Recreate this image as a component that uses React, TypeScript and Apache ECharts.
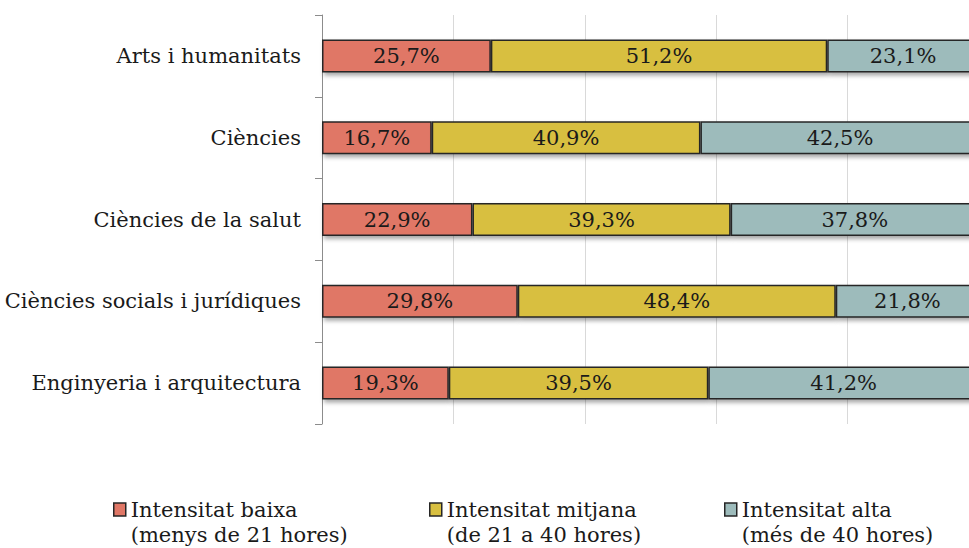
import React, { useEffect, useRef } from "react";
import * as echarts from "echarts";

const categories = [
  "Arts i humanitats",
  "Ciències",
  "Ciències de la salut",
  "Ciències socials i jurídiques",
  "Enginyeria i arquitectura",
];
const seriesNames = ["Intensitat baixa", "Intensitat mitjana", "Intensitat alta"];
const seriesSubtitles = ["(menys de 21 hores)", "(de 21 a 40 hores)", "(més de 40 hores)"];
const baixa = [25.7, 16.7, 22.9, 29.8, 19.3];
const mitjana = [51.2, 40.9, 39.3, 48.4, 39.5];
const alta = [23.1, 42.5, 37.8, 21.8, 41.2];
const colors = ["#E07766", "#D8BF40", "#9DBBBB"];
const legendLefts = [113, 429, 724];

const FONT = "'DejaVu Serif', Georgia, serif";

export default function App() {
  const ref = useRef<HTMLDivElement>(null);
  useEffect(() => {
    if (!ref.current) return;
    const chart = echarts.init(ref.current, null, { renderer: "svg" });
    const values = [baixa, mitjana, alta];
    const series = values.map((vals, i) => ({
      name: seriesNames[i],
      type: "bar",
      stack: "total",
      barWidth: 33,
      data: vals,
      itemStyle: {
        color: colors[i],
        borderColor: "#262626",
        borderWidth: 1.5,
        shadowBlur: 4,
        shadowColor: "rgba(0,0,0,0.35)",
        shadowOffsetX: 2,
        shadowOffsetY: 3,
      },
      label: {
        show: true,
        position: "inside",
        color: "#1a1a1a",
        fontFamily: FONT,
        fontSize: 21,
        formatter: (p: any) => p.value.toFixed(1).replace(".", ",") + "%",
      },
    }));
    const textRich = {
      sp: { fontFamily: FONT, fontSize: 21, lineHeight: 25, color: "#1a1a1a" },
      t: { fontFamily: FONT, fontSize: 21, lineHeight: 25, color: "#1a1a1a" },
    };
    chart.setOption({
      animation: false,
      grid: { left: 322, right: 11, top: 15, bottom: 124, containLabel: false },
      xAxis: {
        type: "value",
        min: 0,
        max: 100,
        interval: 20,
        axisLine: { show: false },
        axisTick: { show: false },
        axisLabel: { show: false },
        splitLine: { show: true, lineStyle: { color: "#d9d9d9", width: 1 } },
      },
      yAxis: {
        type: "category",
        inverse: true,
        data: categories,
        axisLine: { show: true, lineStyle: { color: "#8c8c8c", width: 1 } },
        axisTick: { show: true, length: 7, lineStyle: { color: "#8c8c8c" } },
        axisLabel: {
          margin: 21,
          color: "#1a1a1a",
          fontFamily: FONT,
          fontSize: 21,
        },
      },
      legend: seriesNames.map((n, i) => ({
        data: [n],
        left: legendLefts[i],
        top: 472,
        padding: 0,
        orient: "horizontal",
        icon: "rect",
        itemWidth: 12,
        itemHeight: 13,
        selectedMode: false,
        itemStyle: {
          shadowBlur: 0,
          shadowOffsetX: 0,
          shadowOffsetY: 0,
          borderWidth: 1.5,
          borderColor: "#262626",
        },
        formatter: (name: string) =>
          "{sp| }\n{t|" + name + "}\n{t|" + seriesSubtitles[seriesNames.indexOf(name)] + "}",
        textStyle: {
          fontFamily: FONT,
          fontSize: 21,
          color: "#1a1a1a",
          lineHeight: 25,
          rich: textRich,
        },
      })),
      series,
    });
    return () => chart.dispose();
  }, []);
  return (
    <div
      style={{
        position: "fixed",
        left: 0,
        top: 0,
        width: 969,
        height: 548,
        overflow: "hidden",
        background: "#fff",
      }}
    >
      <div ref={ref} style={{ width: 990, height: 548 }} />
    </div>
  );
}
